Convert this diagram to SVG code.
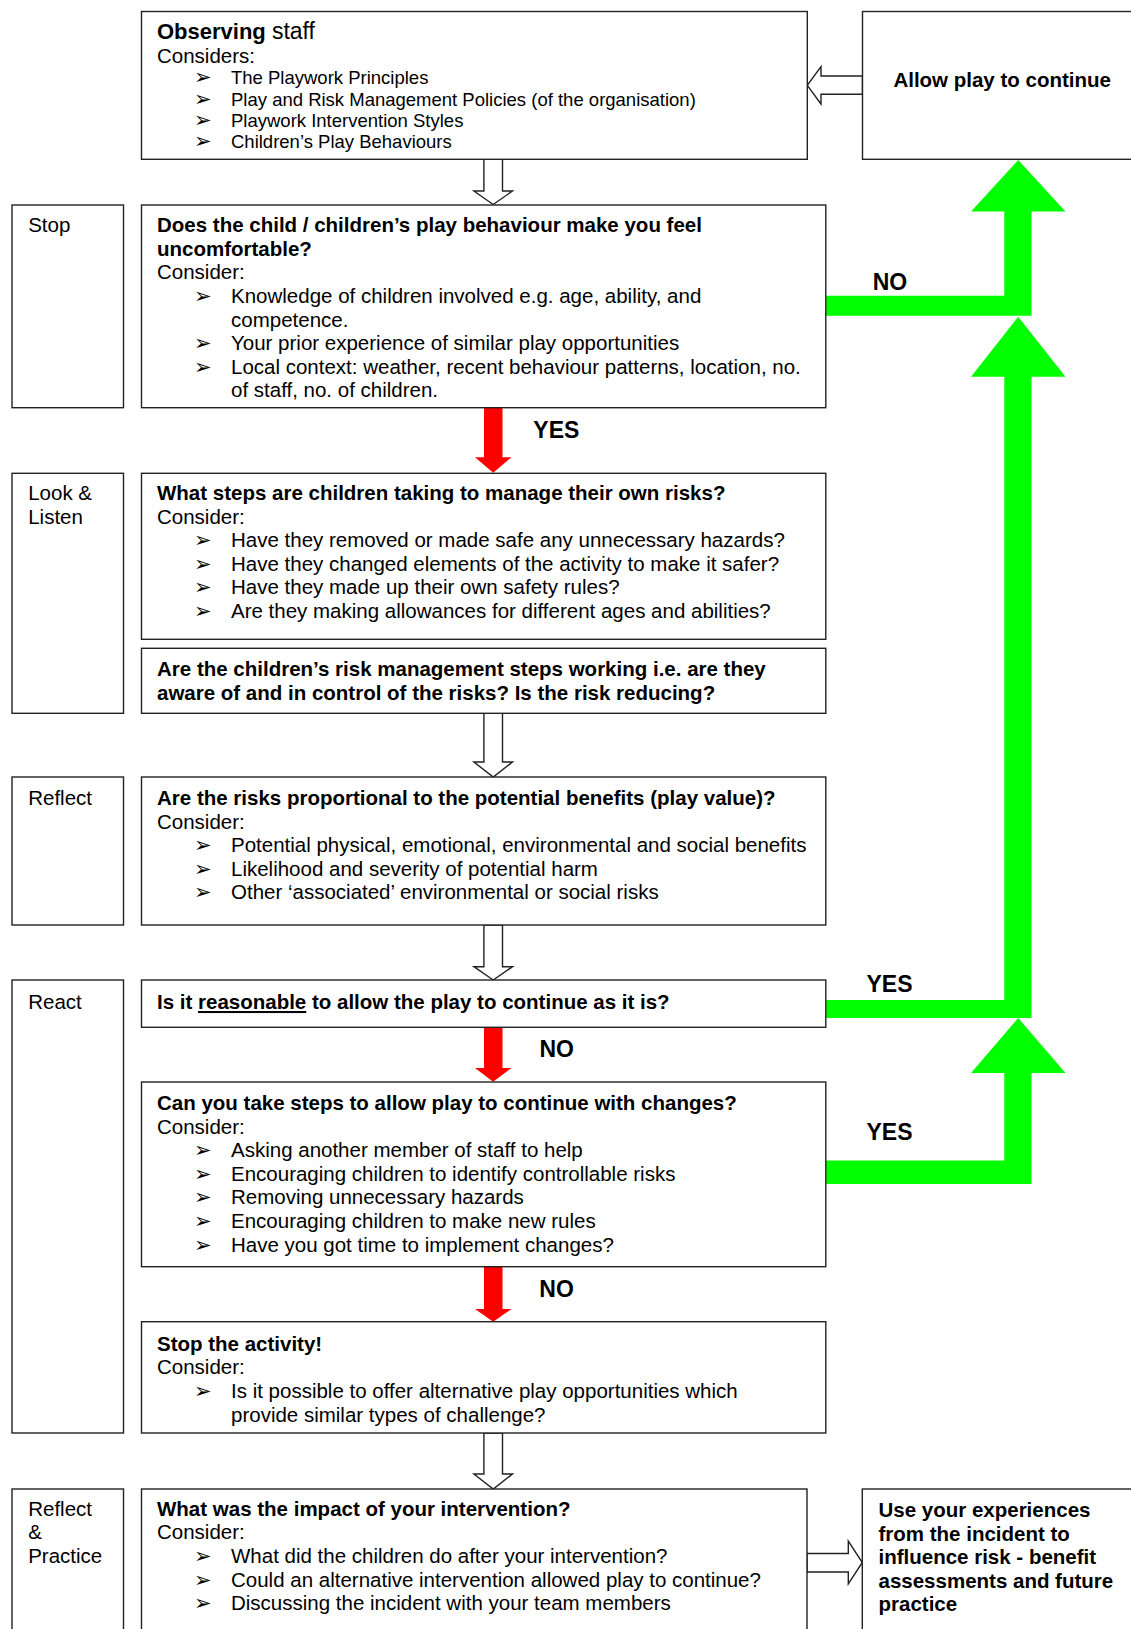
<svg xmlns="http://www.w3.org/2000/svg" width="1131" height="1629" viewBox="0 0 1131 1629">
<style>
.box{fill:#fff;stroke:#222;stroke-width:1.4}
.t{font-family:"Liberation Sans",Arial,sans-serif;font-size:20.5px;fill:#000}
.b{font-weight:bold}
.s{font-size:18.5px}
.bul{font-family:"DejaVu Sans",sans-serif;font-size:21px;fill:#000}
.lbl{font-family:"Liberation Sans",Arial,sans-serif;font-size:23px;font-weight:bold;fill:#000}
.hollow{fill:#fff;stroke:#222;stroke-width:1.4}
.green{fill:#00ff00}
.red{fill:#ff0000}
</style>
<rect width="1131" height="1629" fill="#fff"/>

<g id="connectors">
  <polygon class="hollow" points="483.9,159.3 502.5,159.3 502.5,191 512.5,191 493.2,204.5 473.9,191 483.9,191"/>
  <polygon class="hollow" points="483.9,713.3 502.5,713.3 502.5,762 512.5,762 493.2,777 473.9,762 483.9,762"/>
  <polygon class="hollow" points="483.9,925 502.5,925 502.5,966.7 512.5,966.7 493.2,980 473.9,966.7 483.9,966.7"/>
  <polygon class="hollow" points="483.9,1433 502.5,1433 502.5,1474 512.5,1474 493.2,1489 473.9,1474 483.9,1474"/>
  <polygon class="hollow" points="862.5,76 821,76 821,66.7 807.3,85.3 821,104 821,94.3 862.5,94.3"/>
  <polygon class="hollow" points="807,1553.5 848.3,1553.5 848.3,1541 862.3,1562.5 848.3,1584 848.3,1572 807,1572"/>
  <polygon class="red" points="484,407.7 502.5,407.7 502.5,457.3 511.5,457.3 493.2,472.7 475,457.3 484,457.3"/>
  <polygon class="red" points="484,1027.3 502.5,1027.3 502.5,1068 511.5,1068 493.2,1081.7 475,1068 484,1068"/>
  <polygon class="red" points="484,1266.7 502.5,1266.7 502.5,1309 511.5,1309 493.2,1321.7 475,1309 484,1309"/>
  <polygon class="green" points="826,295.7 1004.3,295.7 1004.3,211.5 971,211.5 1018.2,160 1065.5,211.5 1031.5,211.5 1031.5,315.7 826,315.7"/>
  <polygon class="green" points="826,1000 1004.3,1000 1004.3,376.7 971,376.7 1018.2,316.7 1065.5,376.7 1031.5,376.7 1031.5,1018 826,1018"/>
  <polygon class="green" points="826,1160.6 1004.3,1160.6 1004.3,1073 971,1073 1018.2,1018 1065.5,1073 1031.5,1073 1031.5,1184 826,1184"/>
  <text class="lbl" x="533.3" y="437.7">YES</text>
  <text class="lbl" x="872.7" y="290">NO</text>
  <text class="lbl" x="866.5" y="992">YES</text>
  <text class="lbl" x="539.5" y="1056.7">NO</text>
  <text class="lbl" x="866.5" y="1140">YES</text>
  <text class="lbl" x="539.3" y="1296.7">NO</text>
</g>

<g id="observing">
  <rect class="box" x="141.5" y="11.5" width="665.8" height="147.8"/>
  <text class="t" x="157" y="39"><tspan class="b" font-size="22px">Observing </tspan><tspan font-size="23px">staff</tspan></text>
  <text class="t" x="157" y="62.5">Considers:</text>
  <text class="bul" x="194" y="84">➢</text><text class="t s" x="231" y="84">The Playwork Principles</text>
  <text class="bul" x="194" y="105.5">➢</text><text class="t s" x="231" y="105.5">Play and Risk Management Policies (of the organisation)</text>
  <text class="bul" x="194" y="126.5">➢</text><text class="t s" x="231" y="126.5">Playwork Intervention Styles</text>
  <text class="bul" x="194" y="147.5">➢</text><text class="t s" x="231" y="147.5">Children’s Play Behaviours</text>
</g>

<g id="allow">
  <rect class="box" x="862.5" y="11.5" width="290" height="147.8"/>
  <text class="t b" x="893.4" y="87">Allow play to continue</text>
</g>

<g id="stop-label">
  <rect class="box" x="12" y="205" width="111.5" height="202.7"/>
  <text class="t" x="28.2" y="232">Stop</text>
</g>

<g id="uncomfortable">
  <rect class="box" x="141.5" y="205" width="684.3" height="202.7"/>
  <text class="t b" x="157" y="232">Does the child / children’s play behaviour make you feel</text>
  <text class="t b" x="157" y="255.5">uncomfortable?</text>
  <text class="t" x="157" y="279.2">Consider:</text>
  <text class="bul" x="194" y="303">➢</text><text class="t" x="231" y="303">Knowledge of children involved e.g. age, ability, and</text>
  <text class="t" x="231" y="326.5">competence.</text>
  <text class="bul" x="194" y="350">➢</text><text class="t" x="231" y="350">Your prior experience of similar play opportunities</text>
  <text class="bul" x="194" y="373.5">➢</text><text class="t" x="231" y="373.5">Local context: weather, recent behaviour patterns, location, no.</text>
  <text class="t" x="231" y="397">of staff, no. of children.</text>
</g>

<g id="look-label">
  <rect class="box" x="12" y="473.3" width="111.5" height="240"/>
  <text class="t" x="28.2" y="500">Look &amp;</text>
  <text class="t" x="28.2" y="523.5">Listen</text>
</g>

<g id="steps">
  <rect class="box" x="141.5" y="473.3" width="684.3" height="166"/>
  <text class="t b" x="157" y="500">What steps are children taking to manage their own risks?</text>
  <text class="t" x="157" y="523.5">Consider:</text>
  <text class="bul" x="194" y="547">➢</text><text class="t" x="231" y="547">Have they removed or made safe any unnecessary hazards?</text>
  <text class="bul" x="194" y="570.7">➢</text><text class="t" x="231" y="570.7">Have they changed elements of the activity to make it safer?</text>
  <text class="bul" x="194" y="594.3">➢</text><text class="t" x="231" y="594.3">Have they made up their own safety rules?</text>
  <text class="bul" x="194" y="618">➢</text><text class="t" x="231" y="618">Are they making allowances for different ages and abilities?</text>
</g>

<g id="working">
  <rect class="box" x="141.5" y="648.3" width="684.3" height="65"/>
  <text class="t b" x="157" y="676">Are the children’s risk management steps working i.e. are they</text>
  <text class="t b" x="157" y="699.5">aware of and in control of the risks? Is the risk reducing?</text>
</g>

<g id="reflect-label">
  <rect class="box" x="12" y="777" width="111.5" height="148"/>
  <text class="t" x="28.2" y="805">Reflect</text>
</g>

<g id="proportional">
  <rect class="box" x="141.5" y="777" width="684.3" height="148"/>
  <text class="t b" x="157" y="805">Are the risks proportional to the potential benefits (play value)?</text>
  <text class="t" x="157" y="828.5">Consider:</text>
  <text class="bul" x="194" y="852.2">➢</text><text class="t" x="231" y="852.2">Potential physical, emotional, environmental and social benefits</text>
  <text class="bul" x="194" y="875.8">➢</text><text class="t" x="231" y="875.8">Likelihood and severity of potential harm</text>
  <text class="bul" x="194" y="899.4">➢</text><text class="t" x="231" y="899.4">Other ‘associated’ environmental or social risks</text>
</g>

<g id="react-label">
  <rect class="box" x="12" y="980" width="111.5" height="453"/>
  <text class="t" x="28.2" y="1009">React</text>
</g>

<g id="reasonable">
  <rect class="box" x="141.5" y="980" width="684.3" height="47.3"/>
  <text class="t b" x="157" y="1009">Is it <tspan text-decoration="underline">reasonable</tspan> to allow the play to continue as it is?</text>
</g>

<g id="changes">
  <rect class="box" x="141.5" y="1082" width="684.3" height="184.7"/>
  <text class="t b" x="157" y="1110">Can you take steps to allow play to continue with changes?</text>
  <text class="t" x="157" y="1133.5">Consider:</text>
  <text class="bul" x="194" y="1157.2">➢</text><text class="t" x="231" y="1157.2">Asking another member of staff to help</text>
  <text class="bul" x="194" y="1180.8">➢</text><text class="t" x="231" y="1180.8">Encouraging children to identify controllable risks</text>
  <text class="bul" x="194" y="1204.4">➢</text><text class="t" x="231" y="1204.4">Removing unnecessary hazards</text>
  <text class="bul" x="194" y="1228">➢</text><text class="t" x="231" y="1228">Encouraging children to make new rules</text>
  <text class="bul" x="194" y="1251.6">➢</text><text class="t" x="231" y="1251.6">Have you got time to implement changes?</text>
</g>

<g id="stop-activity">
  <rect class="box" x="141.5" y="1321.7" width="684.3" height="111.3"/>
  <text class="t b" x="157" y="1350.7">Stop the activity!</text>
  <text class="t" x="157" y="1374.3">Consider:</text>
  <text class="bul" x="194" y="1398">➢</text><text class="t" x="231" y="1398">Is it possible to offer alternative play opportunities which</text>
  <text class="t" x="231" y="1421.5">provide similar types of challenge?</text>
</g>

<g id="practice-label">
  <rect class="box" x="12" y="1489" width="111.5" height="160"/>
  <text class="t" x="28.2" y="1515.7">Reflect</text>
  <text class="t" x="28.2" y="1539.3">&amp;</text>
  <text class="t" x="28.2" y="1562.9">Practice</text>
</g>

<g id="impact">
  <rect class="box" x="141.5" y="1489" width="665.5" height="160"/>
  <text class="t b" x="157" y="1515.7">What was the impact of your intervention?</text>
  <text class="t" x="157" y="1539.3">Consider:</text>
  <text class="bul" x="194" y="1562.9">➢</text><text class="t" x="231" y="1562.9">What did the children do after your intervention?</text>
  <text class="bul" x="194" y="1586.5">➢</text><text class="t" x="231" y="1586.5">Could an alternative intervention allowed play to continue?</text>
  <text class="bul" x="194" y="1610">➢</text><text class="t" x="231" y="1610">Discussing the incident with your team members</text>
</g>

<g id="experiences">
  <rect class="box" x="862.3" y="1489" width="290" height="160"/>
  <text class="t b" x="878.5" y="1517">Use your experiences</text>
  <text class="t b" x="878.5" y="1540.5">from the incident to</text>
  <text class="t b" x="878.5" y="1564">influence risk - benefit</text>
  <text class="t b" x="878.5" y="1587.5">assessments and future</text>
  <text class="t b" x="878.5" y="1611">practice</text>
</g>
</svg>
